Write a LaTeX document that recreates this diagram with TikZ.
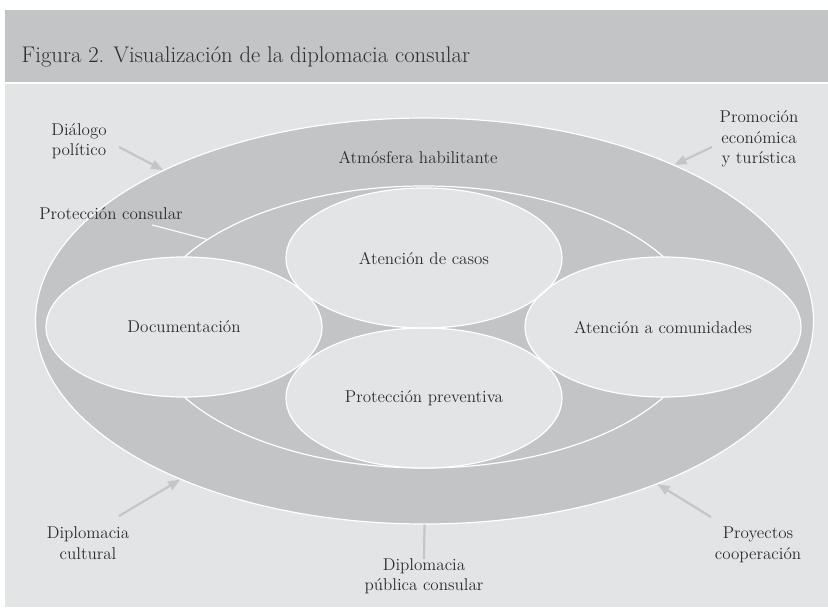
\documentclass[tikz,border=0pt]{standalone}
\usepackage{tikz}
\usetikzlibrary{shapes.geometric,arrows.meta}
\definecolor{bandgray}{HTML}{C3C4C6}
\definecolor{fieldgray}{HTML}{E3E4E6}
\definecolor{inkgray}{HTML}{2E2E2E}
\definecolor{arrowgray}{HTML}{C4C5C7}

\tikzset{
  ring/.style={ellipse,fill=bandgray,draw=white,line width=0.9pt,inner sep=0pt},
  bubble/.style={ellipse,minimum width=207pt,minimum height=105pt,inner sep=0pt},
  lbl/.style={text=inkgray,font=\fontsize{12.8}{15.4}\selectfont,align=center},
  pointer/.style={arrowgray,line width=1.6pt,-{Triangle[length=9pt,width=7pt]}}
}

\begin{document}
\begin{tikzpicture}[x=0.75pt,y=-0.75pt]
\useasboundingbox (0,0) rectangle (828,609);
\fill[white] (0,0) rectangle (828,609);
\fill[bandgray] (5,10) rectangle (828,82);
\fill[fieldgray] (5,84) rectangle (828,607);
\node[anchor=west,text=inkgray,font=\fontsize{17}{20}\selectfont] (title) at (17,57) {Figura 2. Visualización de la diplomacia consular};
% rings
\node[ring,minimum width=583.5pt,minimum height=304.5pt] (outer) at (424.5,321) {};
\node[ring,minimum width=414pt,minimum height=211.5pt] (prot) at (424,327) {};
% the four bubbles
\node[bubble,fill=fieldgray] (doc) at (184,327) {};
\node[bubble,fill=fieldgray] (casos) at (424,258) {};
\node[bubble,fill=fieldgray] (com) at (663,327) {};
\node[bubble,fill=fieldgray] (prev) at (424,398) {};
\foreach \n in {doc,casos,com,prev}
  \node[bubble,draw=white,line width=0.9pt] at (\n) {};
\node[lbl] at (doc) {Documentación};
\node[lbl] at (casos) {Atención de casos};
\node[lbl] at (com) {Atención a comunidades};
\node[lbl] at (prev) {Protección preventiva};
% labels
\node[lbl] (atm) at (418,157) {Atmósfera habilitante};
\node[lbl] (dial) at (79,141) {Diálogo\\político};
\node[lbl] (pcons) at (111,214) {Protección consular};
\node[lbl] (promo) at (759,139) {Promoción\\económica\\y turística};
\node[lbl] (cult) at (88,543) {Diplomacia\\cultural};
\node[lbl] (publ) at (424,576) {Diplomacia\\pública consular};
\node[lbl] (proy) at (758,545) {Proyectos\\cooperación};
% connectors
\coordinate (pconsfoot) at (152,225);
\draw[white,line width=0.8pt] (pconsfoot) -- (prot.158);
\draw[arrowgray,line width=1.6pt] (outer.south) -- ([yshift=-4pt]publ.north);
\coordinate (dialtail) at (119,147);
\coordinate (promotail) at (712,147);
\coordinate (culttail) at (119,516);
\coordinate (proytail) at (711,517);
\draw[pointer] (dialtail) -- (outer.150);
\draw[pointer] (promotail) -- (outer.32);
\draw[pointer] (culttail) -- (outer.213);
\draw[pointer] (proytail) -- (outer.-35);
\end{tikzpicture}
\end{document}
